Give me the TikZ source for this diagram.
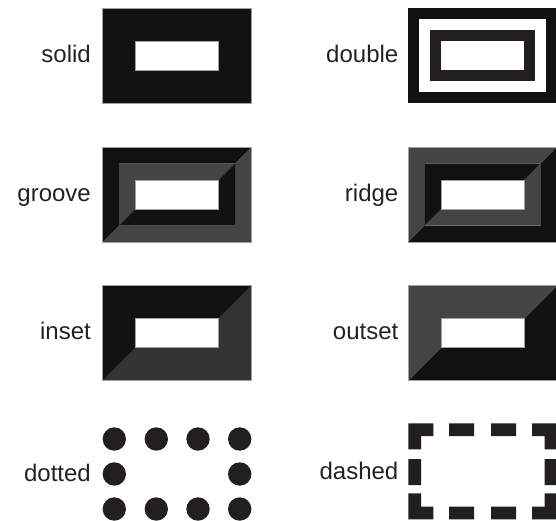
\documentclass[tikz,border=0pt]{standalone}
\usepackage{fontspec}
\setmainfont{Liberation Sans}
\definecolor{boxblack}{HTML}{111111}
\definecolor{boxgray}{HTML}{444444}
\definecolor{boxdim}{HTML}{333333}
\definecolor{dotink}{HTML}{231F20}
\definecolor{ink}{HTML}{222222}
\definecolor{edge}{HTML}{A0A0A0}

% ring between a rectangle and its inset copy, split on the diagonals
\newcommand{\bevelring}[7]{%
  \fill[#6] (#1,#2) -- (#3,#2) -- (#3-#5,#2+#5) -- (#1+#5,#2+#5) -- (#1+#5,#4-#5) -- (#1,#4) -- cycle;
  \fill[#7] (#3,#4) -- (#1,#4) -- (#1+#5,#4-#5) -- (#3-#5,#4-#5) -- (#3-#5,#2+#5) -- (#3,#2) -- cycle;}

\begin{document}
\begin{tikzpicture}[x=1pt,y=-1pt,
  lbl/.style={text=ink, font=\fontsize{24}{28}\selectfont, anchor=base east, inner sep=0pt},
  rim/.style={draw=edge, line width=0.6pt}]
\useasboundingbox (0,0) rectangle (556,520);

% labels
\node[lbl] (lsolid) at (91,62.5) {solid};
\node[lbl] (ldouble) at (398.5,62.5) {double};
\node[lbl] (lgroove) at (91,201) {groove};
\node[lbl] (lridge) at (398.5,201) {ridge};
\node[lbl] (linset) at (91,339.5) {inset};
\node[lbl] (loutset) at (398.5,339.5) {outset};
\node[lbl] (ldotted) at (91,481) {dotted};
\node[lbl] (ldashed) at (398.5,479) {dashed};

% solid
\fill[boxblack, rim] (102.7,8.3) rectangle (251.7,103.3);
\fill[white, rim] (135.7,41.3) rectangle (218.7,70.3);

% double
\fill[boxblack] (408.3,8.3) rectangle (557.3,103.3);
\fill[white] (419.3,19.3) rectangle (546.3,92.3);
\fill[dotink] (430.3,30.3) rectangle (535.3,81.3);
\fill[white] (441.3,41.3) rectangle (524.3,70.3);

% groove
\bevelring{102.7}{147}{251.7}{242}{16.5}{boxblack}{boxgray}
\bevelring{119.2}{163.5}{235.2}{225.5}{16.5}{boxgray}{boxblack}
\draw[rim] (102.7,147) rectangle (251.7,242);
\fill[white, rim] (135.7,180) rectangle (218.7,209);

% ridge
\bevelring{408.3}{147}{557.3}{242}{16.5}{boxgray}{boxblack}
\bevelring{424.8}{163.5}{540.8}{225.5}{16.5}{boxblack}{boxgray}
\draw[rim] (408.3,147) rectangle (557.3,242);
\fill[white, rim] (441.3,180) rectangle (524.3,209);

% inset
\bevelring{102.7}{285.7}{251.7}{380.7}{33}{boxblack}{boxdim}
\draw[rim] (102.7,285.7) rectangle (251.7,380.7);
\fill[white, rim] (135.7,318.7) rectangle (218.7,347.7);

% outset
\bevelring{408.3}{285.7}{557.3}{380.7}{33}{boxgray}{boxblack}
\draw[rim] (408.3,285.7) rectangle (557.3,380.7);
\fill[white, rim] (441.3,318.7) rectangle (524.3,347.7);

% dotted
\fill[dotink] (114.3,439) circle[radius=11.7pt] (156.3,439) circle[radius=11.7pt]
  (198,439) circle[radius=11.7pt] (239.7,439) circle[radius=11.7pt];
\fill[dotink] (114.3,474) circle[radius=11.7pt] (239.7,474) circle[radius=11.7pt];
\fill[dotink] (114.3,509) circle[radius=11.7pt] (156.3,509) circle[radius=11.7pt]
  (198,509) circle[radius=11.7pt] (239.7,509) circle[radius=11.7pt];

% dashed
\fill[dotink] (408.3,423.3) rectangle (433.3,436) (408.3,423.3) rectangle (421,449.3);
\fill[dotink] (449,423.3) rectangle (474,436) (491,423.3) rectangle (516,436);
\fill[dotink] (532,423.3) rectangle (557.3,436) (544.6,423.3) rectangle (557.3,449.3);
\fill[dotink] (408.3,459) rectangle (421,485) (544.6,459) rectangle (557.3,485);
\fill[dotink] (408.3,506.6) rectangle (433.3,519.3) (408.3,493.3) rectangle (421,519.3);
\fill[dotink] (449,506.6) rectangle (474,519.3) (491,506.6) rectangle (516,519.3);
\fill[dotink] (532,506.6) rectangle (557.3,519.3) (544.6,493.3) rectangle (557.3,519.3);
\end{tikzpicture}
\end{document}
